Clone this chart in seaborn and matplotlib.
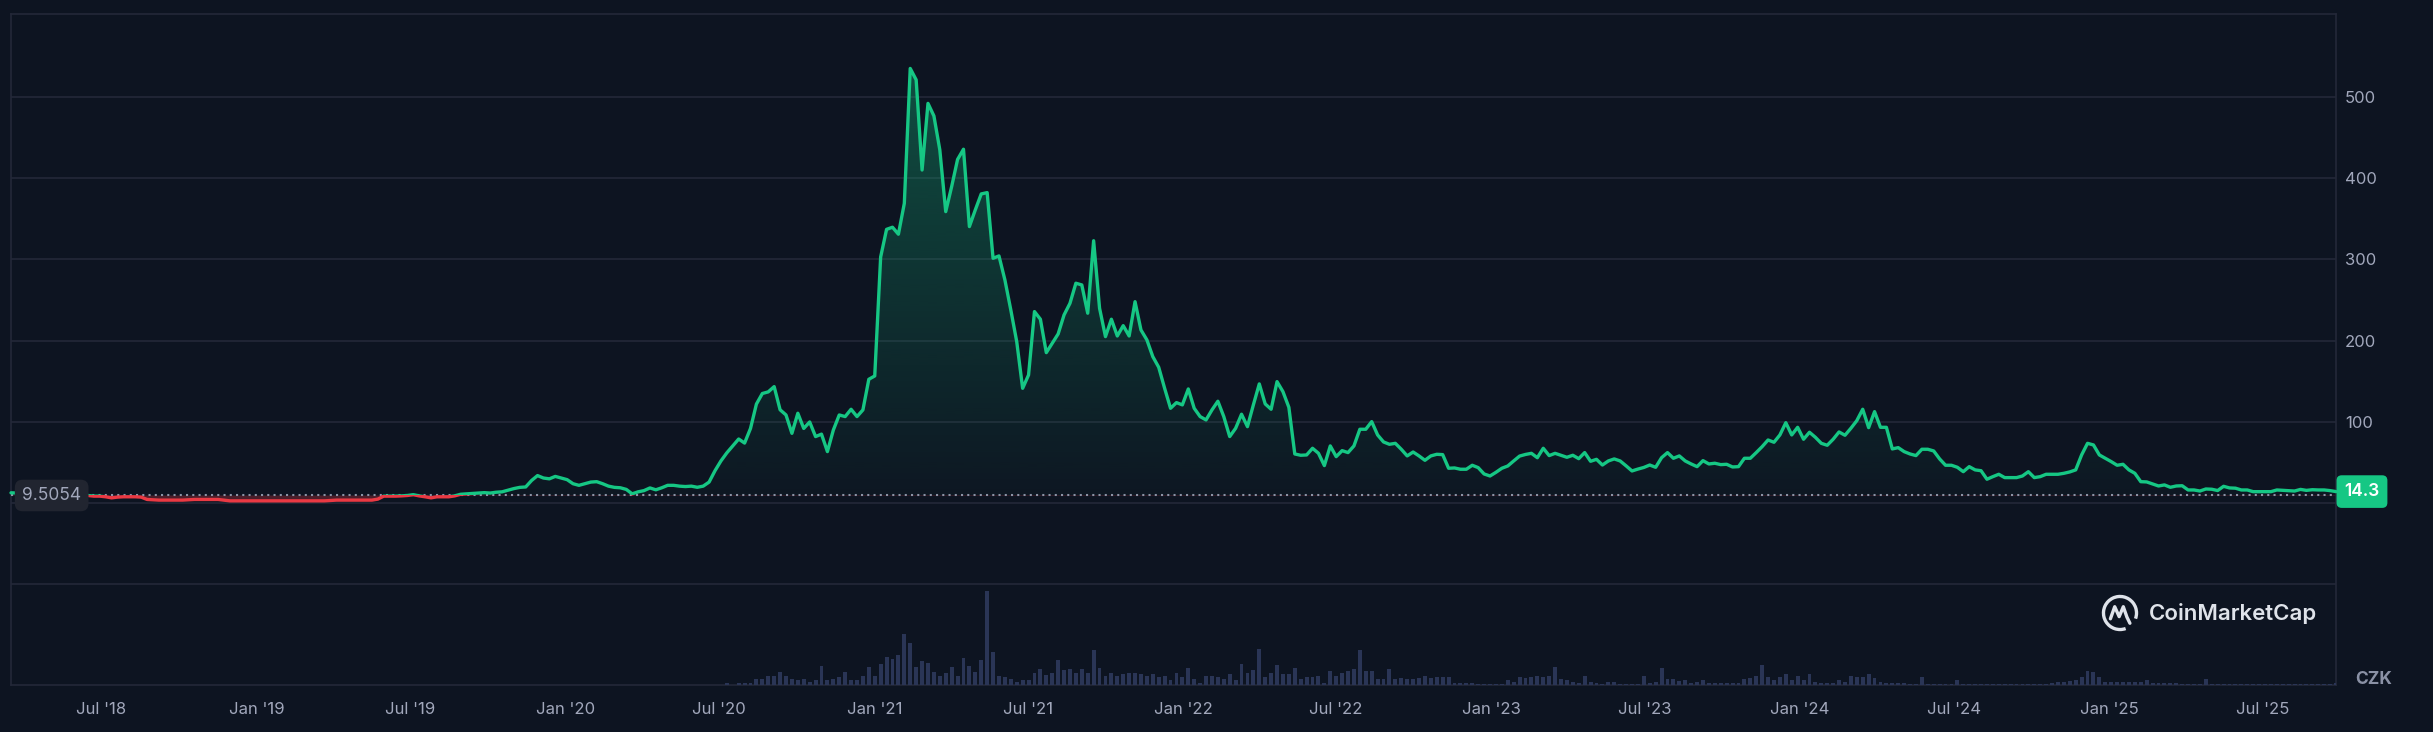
import numpy as np
import pandas as pd
import matplotlib
matplotlib.use("Agg")
import matplotlib.pyplot as plt
import matplotlib.dates as mdates
from matplotlib.colors import to_rgb
from matplotlib.patches import Rectangle, Arc
import seaborn as sns

# ---- data (weekly closes in CZK) ----
start_date = "2018-03-16"
base_price = 9.5054
last_label = "14.3"

price_2018_19 = [
    12.8, 12.5, 12, 12, 12, 11.5, 11.5, 11, 11, 12,
    12, 12, 12.5, 9.5, 8.7, 8.7, 7.9, 6.6, 7.5, 7.9,
    7.9, 7.9, 7.5, 4.6, 4.2, 3.8, 3.8, 3.8, 3.8, 3.8,
    4.2, 4.6, 4.6, 4.6, 4.6, 4.6, 3.8, 2.9, 2.9, 2.9,
    2.9, 2.9, 2.9, 2.9, 2.9, 2.9, 2.9, 2.9, 2.9, 2.9,
    2.9, 2.9, 2.9, 2.9, 3.3, 3.8, 3.8, 3.8, 3.8, 3.8,
    3.8, 3.8, 5, 8.7, 8.7, 8.7, 9, 9.5, 10.5, 9,
    7.9, 6.6, 7.9,
]
price_2019_20 = [
    7.9, 7.9, 9, 11, 11.5, 12, 12.5, 13, 12.5, 13.5,
    14, 16, 18, 19.5, 20, 28, 34, 31, 30, 33,
    31, 29, 24, 22, 24, 26, 26.5, 24, 21, 19.5,
    19, 17, 11.5, 14, 15.5, 18.8, 16.5, 19, 22, 22,
    21, 20.5, 21, 19.6, 21, 26, 40, 52, 62, 70.5,
    79, 74, 92, 122, 135, 137, 143.5, 115, 108.6, 86,
    110.7,
]
price_2020_21 = [
    92, 100, 82, 85, 63.5, 90, 108.6, 106.6, 115.6, 106.6,
    114.8, 152.5, 156.6, 303, 337, 339.6, 331, 369, 535, 521,
    410, 492, 476.6, 434.8, 358.8, 389.6, 423, 435.6, 340.4, 361,
    380.6, 382.2, 301.4, 304.3, 274.8, 237.8, 198.8, 141.4, 157.8, 235.8,
    226.4, 185.3, 196.8, 208.3, 231.7, 246, 270.7, 268.6, 233.8,
]
price_2021_23 = [
    323, 240, 205, 226.4, 205.8, 218.5, 205.8, 248, 213.2, 201,
    180.4, 167.3, 141.4, 116.8, 123.8, 121, 140.6, 116.8, 106.6, 102.5,
    114.8, 125.5, 106.6, 82, 92.2, 109.5, 94.2, 121, 146.8, 122.2,
    115.6, 149.6, 137.3, 118, 60.6, 59, 59.4, 67.6, 61.5, 46.3,
    70.5, 57.3, 64.7, 62.3, 70.5, 91, 91, 100.4, 84, 75.4,
    72.5, 73.7, 66.4, 58.2, 63, 58.2, 52.8, 58.2, 60.2, 59.8,
    43, 43.4, 41.8, 41.8, 46.7, 43.8, 36, 33.5, 38,
]
price_2023_24 = [
    43, 45.8, 52, 58, 60, 61.4, 56, 67.6, 58.6, 61.4,
    59, 56.5, 59, 54.8, 62.3, 51.6, 54, 47, 52, 54.5,
    52, 46, 39.7, 42, 44, 47, 44.2, 56, 62.3, 55.3,
    58.2, 52, 48.3, 45, 52.4, 48.3, 49.2, 47.5, 47.9, 44.6,
    45, 55.3, 55.3, 62.3, 69.6, 77.8, 75, 84, 99.1, 84,
    93.4, 78.7, 87.3, 81.1, 73.7, 71.3, 78.7, 87.7, 83.6, 92.2,
    101.6, 115.6, 93, 112.7, 93.4, 93.4, 66.8, 68.4, 63.5, 60.6,
    58.6, 66.4, 66.4, 64.3, 54.5, 46.7, 46.7, 44.2, 38.8, 45,
    41, 40, 29.5,
]
price_2024_25 = [
    32.7, 35.6, 31.5, 31.5, 31.5, 33.5, 38.8, 31.5, 32.7, 35.6,
    35.6, 35.6, 36.8, 38.5, 41, 59.4, 73.7, 71.7, 59.4, 55.3,
    51.2, 46.7, 47.9, 41, 36.8, 26.5, 26.2, 23.7, 21.2, 22.5,
    19.6, 21.2, 21.5, 16.3, 16.3, 15, 17.5, 17.2, 15.6, 20.8,
    18.8, 18.5, 16.3, 16.3, 14.2, 14.2, 14.2, 14.2, 16.3, 15.8,
    15.4, 15, 17, 15.8, 16.6, 16.3, 16.3, 15.5, 14.3,
]

# weekly volume (relative units), nothing traded before mid 2020
volume_none = [0.0] * 121
volume_2020_21 = [
    1.7, 0, 1.7, 1.7, 1.7, 6, 6, 9, 9, 13.3,
    9, 6, 4.7, 6, 3, 4.7, 19.3, 4.7, 6, 7.7,
    13.3, 4.7, 4.7, 9, 17.7, 9, 20.7, 28.3, 25.7, 29.7,
    50.7, 41.7, 17.7, 23.7, 22.3, 13.3, 9, 12, 17.7, 9,
    26.7, 19.3, 13.3, 25.3, 94.3, 32.7, 9, 7.7, 6, 3,
    4.7, 4.7, 12, 16.3, 10.3, 12, 25.3, 15, 16.3, 12,
    16.3, 12,
]
volume_2021_23 = [
    35, 16.7, 9, 11.7, 9, 10.7, 11.7, 12.3, 11, 9,
    10.7, 8.3, 9, 5, 11.7, 7.7, 16.7, 5.7, 2.3, 9,
    9, 7.7, 5.7, 10.7, 5, 21, 12.3, 15, 36, 8.3,
    12.3, 19.7, 11, 11, 16.7, 6, 7.7, 8.3, 9, 2.3,
    14, 9, 11.7, 14, 15.7, 35, 14, 14, 6, 6,
    15.7, 6, 6.7, 5.7, 5.7, 6.7, 9, 7.3, 8.3, 8.3,
    8.3, 2.3, 1.7, 1.7, 1.7,
]
volume_2023_25 = [
    1.5, 1.5, 1, 1.5, 1.5, 5, 3, 7.7, 6.7, 8.3,
    9, 8.3, 9, 17.7, 6, 5, 3.3, 2.3, 9, 3.3,
    1.7, 1, 3, 3, 1.5, 1, 1.5, 1.5, 9, 2,
    3, 16.7, 6, 6, 4.3, 5, 2.3, 3.3, 5, 2,
    2, 2, 2, 2, 2, 6, 7.3, 9, 19.7, 8.3,
    5, 8.3, 10.7, 5, 9, 5, 10.7, 3.3, 2, 2,
    2, 5, 3.3, 9, 7.7, 7.7, 10.7, 7.3, 3.3, 2,
    2, 2, 2, 1.5, 1.5, 7.7, 1.5, 1.5, 1.5, 1.5,
    1.5, 5, 1.5, 1, 1, 1, 1, 1, 1, 1,
    1, 1, 1.5, 1.5, 1, 1, 1.5, 2, 3.3, 3.3,
    4.3, 5, 8, 14, 12.7, 7.7, 3.3, 3.3, 3.3, 3.3,
    3.3, 3.3, 3.3, 5, 2, 2, 2, 2, 2, 1.5,
    1.5, 1.5, 1.5, 6, 1.5, 1, 1, 1, 1.5, 1,
    1, 1, 1.5, 1, 1, 1.5, 1, 1, 1.5, 1,
    1, 1, 1.5, 1, 1, 2,
]

price = np.array(price_2018_19 + price_2019_20 + price_2020_21
                 + price_2021_23 + price_2023_24 + price_2024_25)
volume = np.array(volume_none + volume_2020_21 + volume_2021_23 + volume_2023_25)
dates = pd.date_range(start_date, periods=len(price), freq="7D")
assert len(volume) == len(price)

# ---- style ----
BG = "#0d1421"
GRID = "#232838"
GREEN = "#16c784"
RED = "#ea3943"
LABEL = "#a1a7bb"
VOL = "#2a3556"
LOGO = "#dfe3ea"

sns.set_theme(style="dark", rc={"axes.facecolor": BG, "figure.facecolor": BG})
plt.rcParams["font.family"] = ["Inter", "DejaVu Sans"]

W, H = 2433, 732
fig = plt.figure(figsize=(W / 100, H / 100), dpi=100)
ax = fig.add_axes([11 / W, 47 / H, 2325 / W, 671 / H])
ax.set_facecolor(BG)

x_num = mdates.date2num(dates.to_pydatetime())
x0, x1 = x_num[0], x_num[-1]

# price line, green above the start price and red below it
sns.lineplot(x=dates, y=price, ax=ax, color=GREEN, linewidth=2.4, estimator=None, zorder=4)
green_line = ax.lines[-1]
green_line.set_clip_path(Rectangle((x0 - 10, base_price), x1 - x0 + 20, 2000, transform=ax.transData))
sns.lineplot(x=dates, y=price, ax=ax, color=RED, linewidth=2.4, estimator=None, zorder=4)
red_line = ax.lines[-1]
red_line.set_clip_path(Rectangle((x0 - 10, -2000), x1 - x0 + 20, 2000 + base_price, transform=ax.transData))

# gradient fill above the start price
poly = ax.fill_between(x_num, price, base_price, facecolor="none", edgecolor="none")
grad = np.zeros((256, 1, 4))
grad[..., :3] = to_rgb(GREEN)
grad[:, 0, 3] = np.linspace(0.02, 0.33, 256)
im = ax.imshow(grad, extent=[x0, x1, base_price, price.max()], origin="lower",
               aspect="auto", zorder=1, interpolation="bilinear")
im.set_clip_path(poly.get_paths()[0], transform=ax.transData)

red_fill = ax.fill_between(x_num, price, base_price, facecolor=RED, alpha=0.28, edgecolor="none", zorder=1)
red_fill.set_clip_path(Rectangle((x0 - 10, -2000), x1 - x0 + 20, 2000 + base_price, transform=ax.transData))

# dotted start-price line
ax.axhline(base_price, color="#8c93a6", linewidth=1.5, dashes=(1, 2), zorder=3)

ax.set_xlim(x0, x1)
ax.set_ylim(-223.7, 602)

# grid and axes
ax.grid(False)
ax.set_yticks([-100, 0, 100, 200, 300, 400, 500])
ax.set_yticklabels(["", "", "100", "200", "300", "400", "500"])
ax.yaxis.tick_right()
ax.grid(axis="y", color=GRID, linewidth=1.2)
ax.tick_params(axis="y", length=0, pad=6.5, labelsize=12, labelcolor=LABEL)
ax.xaxis.set_major_locator(mdates.MonthLocator(bymonth=[1, 7], bymonthday=1))
ax.xaxis.set_major_formatter(mdates.DateFormatter("%b '%y"))
ax.tick_params(axis="x", length=0, pad=12, labelsize=12, labelcolor=LABEL)
ax.set_xlabel("")
ax.set_ylabel("")
for side in ["left", "right", "top", "bottom"]:
    ax.spines[side].set_visible(True)
    ax.spines[side].set_color(GRID)
    ax.spines[side].set_linewidth(1.2)

# volume pane
ax_v = fig.add_axes([11 / W, 47 / H, 2325 / W, 101 / H], sharex=ax)
ax_v.set_facecolor("none")
ax_v.bar(x_num, volume, width=4.6, color=VOL, edgecolor="none", linewidth=0, zorder=2)
ax_v.set_ylim(0, 101)
ax_v.axis("off")
ax.set_xlim(x0, x1)

# price labels
ax.annotate("9.5054", xy=(0, base_price), xycoords=ax.get_yaxis_transform(),
            xytext=(8, 0), textcoords="offset points", ha="left", va="center",
            fontsize=12.5, color=LABEL, zorder=6,
            bbox=dict(boxstyle="round,pad=0.42,rounding_size=0.45", fc="#212530", ec="none"))
ax.annotate(last_label, xy=(1, price[-1]), xycoords=ax.get_yaxis_transform(),
            xytext=(6, 0), textcoords="offset points", ha="left", va="center",
            fontsize=12.5, color="white", fontweight="semibold", zorder=6, annotation_clip=False,
            bbox=dict(boxstyle="round,pad=0.45,rounding_size=0.3", fc=GREEN, ec="none"))

# currency and watermark
fig.text(2374 / W, 1 - 680 / H, "CZK", ha="center", va="center",
         fontsize=12.5, fontweight="bold", color="#8a91a5")
fig.text(2149 / W, 1 - 613 / H, "CoinMarketCap", ha="left", va="center",
         fontsize=16, fontweight="semibold", color=LOGO)
lax = fig.add_axes([2101 / W, 1 - 632 / H, 38 / W, 38 / H])
lax.set_xlim(-1.15, 1.15)
lax.set_ylim(-1.15, 1.15)
lax.axis("off")
lax.add_patch(Arc((0, 0), 2, 2, theta1=-20, theta2=290, lw=2.4, color=LOGO))
lax.plot([-0.58, -0.32, -0.05, 0.2, 0.42, 0.6], [-0.35, 0.38, -0.22, 0.38, -0.25, -0.62],
         lw=2.4, color=LOGO, solid_capstyle="round", solid_joinstyle="round")

fig.savefig("out.png", dpi=100, facecolor=BG)
